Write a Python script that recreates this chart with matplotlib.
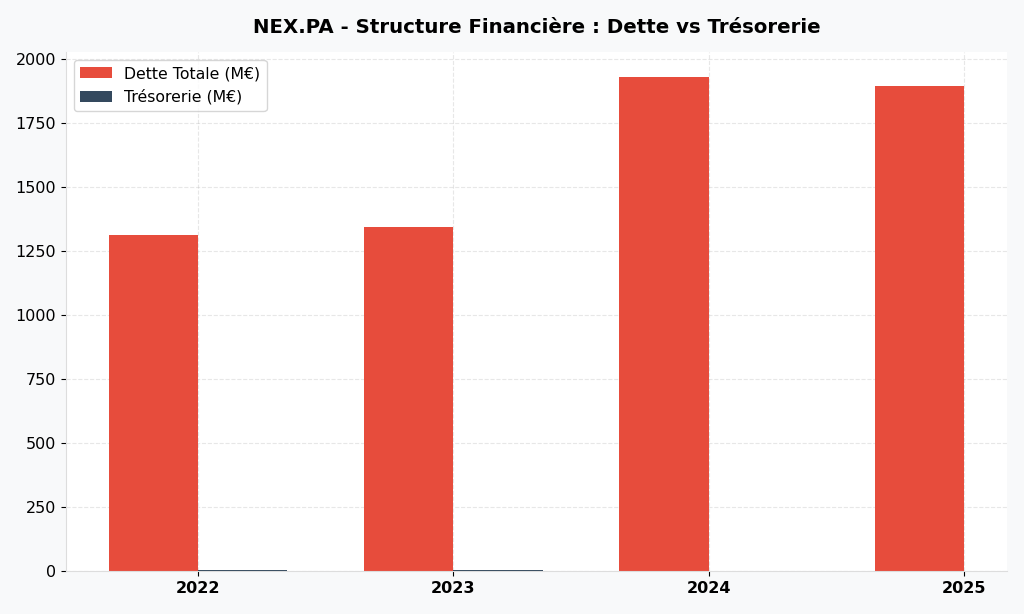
import numpy as np
import matplotlib.pyplot as plt

# Data
years = ['2022', '2023', '2024', '2025']
dette = [1312, 1342, 1930, 1895]
tresorerie = [5, 5, np.nan, np.nan]

fig, ax = plt.subplots(figsize=(10.24, 6.14), dpi=100)
fig.patch.set_facecolor('#f8f9fa')
ax.set_facecolor('white')

x = np.arange(len(years))
w = 0.35
ax.bar(x - w / 2, dette, w, color='#e74c3c', label='Dette Totale (M€)')
ax.bar(x + w / 2, tresorerie, w, color='#34495e', label='Trésorerie (M€)')

ax.set_xticks(x)
ax.set_xticklabels(years, fontweight='bold', fontsize=11.5)
ax.tick_params(axis='y', labelsize=11.5)
ax.set_title('NEX.PA - Structure Financière : Dette vs Trésorerie',
             fontsize=14.2, fontweight='bold', pad=14)

ax.grid(True, linestyle='--', alpha=0.3)
ax.set_axisbelow(True)
for s in ['top', 'right']:
    ax.spines[s].set_visible(False)
for s in ['left', 'bottom']:
    ax.spines[s].set_color('#dddddd')

ax.legend(loc='upper left', fontsize=11.3)

plt.subplots_adjust(left=0.0645, right=0.983, top=0.915, bottom=0.07)
plt.savefig('out.png', facecolor=fig.get_facecolor())
